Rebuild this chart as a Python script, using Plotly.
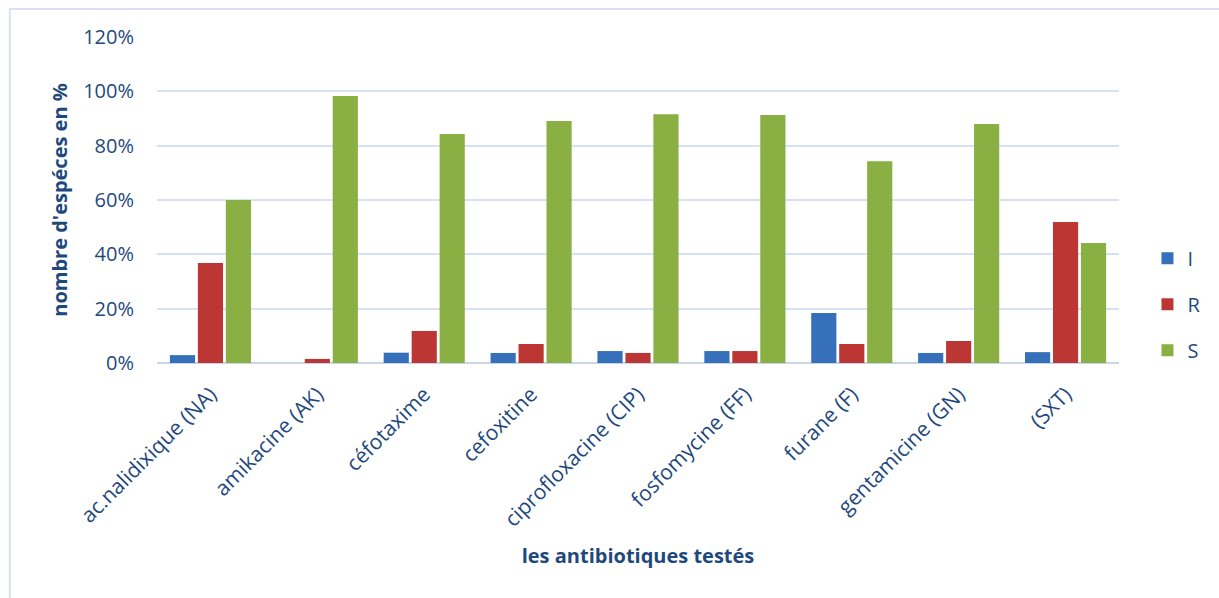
import plotly.graph_objects as go

# Antibiotic susceptibility results (percentage of species per category)
antibiotiques = [
    "ac.nalidixique (NA)", "amikacine (AK)", "céfotaxime", "cefoxitine",
    "ciprofloxacine (CIP)", "fosfomycine (FF)", "furane (F)",
    "gentamicine (GN)", "(SXT)",
]
intermediaire = [0.029, 0.0, 0.038, 0.037, 0.044, 0.044, 0.184, 0.037, 0.040]
resistant = [0.368, 0.015, 0.118, 0.070, 0.037, 0.044, 0.070, 0.081, 0.519]
sensible = [0.600, 0.983, 0.843, 0.891, 0.916, 0.913, 0.743, 0.880, 0.442]

series = [
    ("I", intermediaire, "#3670BA"),
    ("R", resistant, "#BC3734"),
    ("S", sensible, "#8AAF42"),
]

text_color = "#1F497D"
font_family = "Open Sans, Liberation Sans, sans-serif"

fig = go.Figure()
for name, values, color in series:
    fig.add_trace(go.Bar(
        x=antibiotiques,
        y=values,
        name=name,
        legendgroup=name,
        marker=dict(color=color, line=dict(width=0)),
    ))

fig.update_layout(
    width=1219,
    height=598,
    margin=dict(l=157, r=100, t=37, b=235, autoexpand=False),
    paper_bgcolor="white",
    plot_bgcolor="white",
    barmode="group",
    bargap=0.215,
    bargroupgap=0.1,
    font=dict(family=font_family, color=text_color, size=19),
    showlegend=True,
    legend=dict(
        x=1.0296, xanchor="left",
        y=0.18, yanchor="middle",
        traceorder="grouped",
        tracegroupgap=17,
        font=dict(size=20, color=text_color),
        itemwidth=30,
        bgcolor="rgba(0,0,0,0)",
    ),
    xaxis=dict(
        tickangle=-45,
        showgrid=False,
        showline=False,
        ticks="",
        ticklabelstandoff=14,
        tickfont=dict(size=21),
        title=dict(
            text="<b>les antibiotiques testés</b>",
            font=dict(size=20),
            standoff=17,
        ),
    ),
    yaxis=dict(
        range=[0, 1.2],
        tickvals=[0, 0.2, 0.4, 0.6, 0.8, 1.0, 1.2],
        tickformat=".0%",
        showgrid=True,
        gridcolor="#D6E2F3",
        gridwidth=2,
        zeroline=True,
        zerolinecolor="#C9D6E8",
        zerolinewidth=2,
        showline=False,
        ticks="",
        ticklabelstandoff=22,
        tickfont=dict(size=20),
        title=dict(
            text="<b>nombre d'espéces en %</b>",
            font=dict(size=20),
            standoff=10,
        ),
    ),
    shapes=[
        dict(
            type="rect", xref="paper", yref="paper",
            x0=-0.153, x1=1.2, y0=-1.0, y1=1.086,
            line=dict(color="#D6E2F3", width=2),
            fillcolor="rgba(0,0,0,0)",
            layer="below",
        )
    ],
)

fig.write_html("out.html")
